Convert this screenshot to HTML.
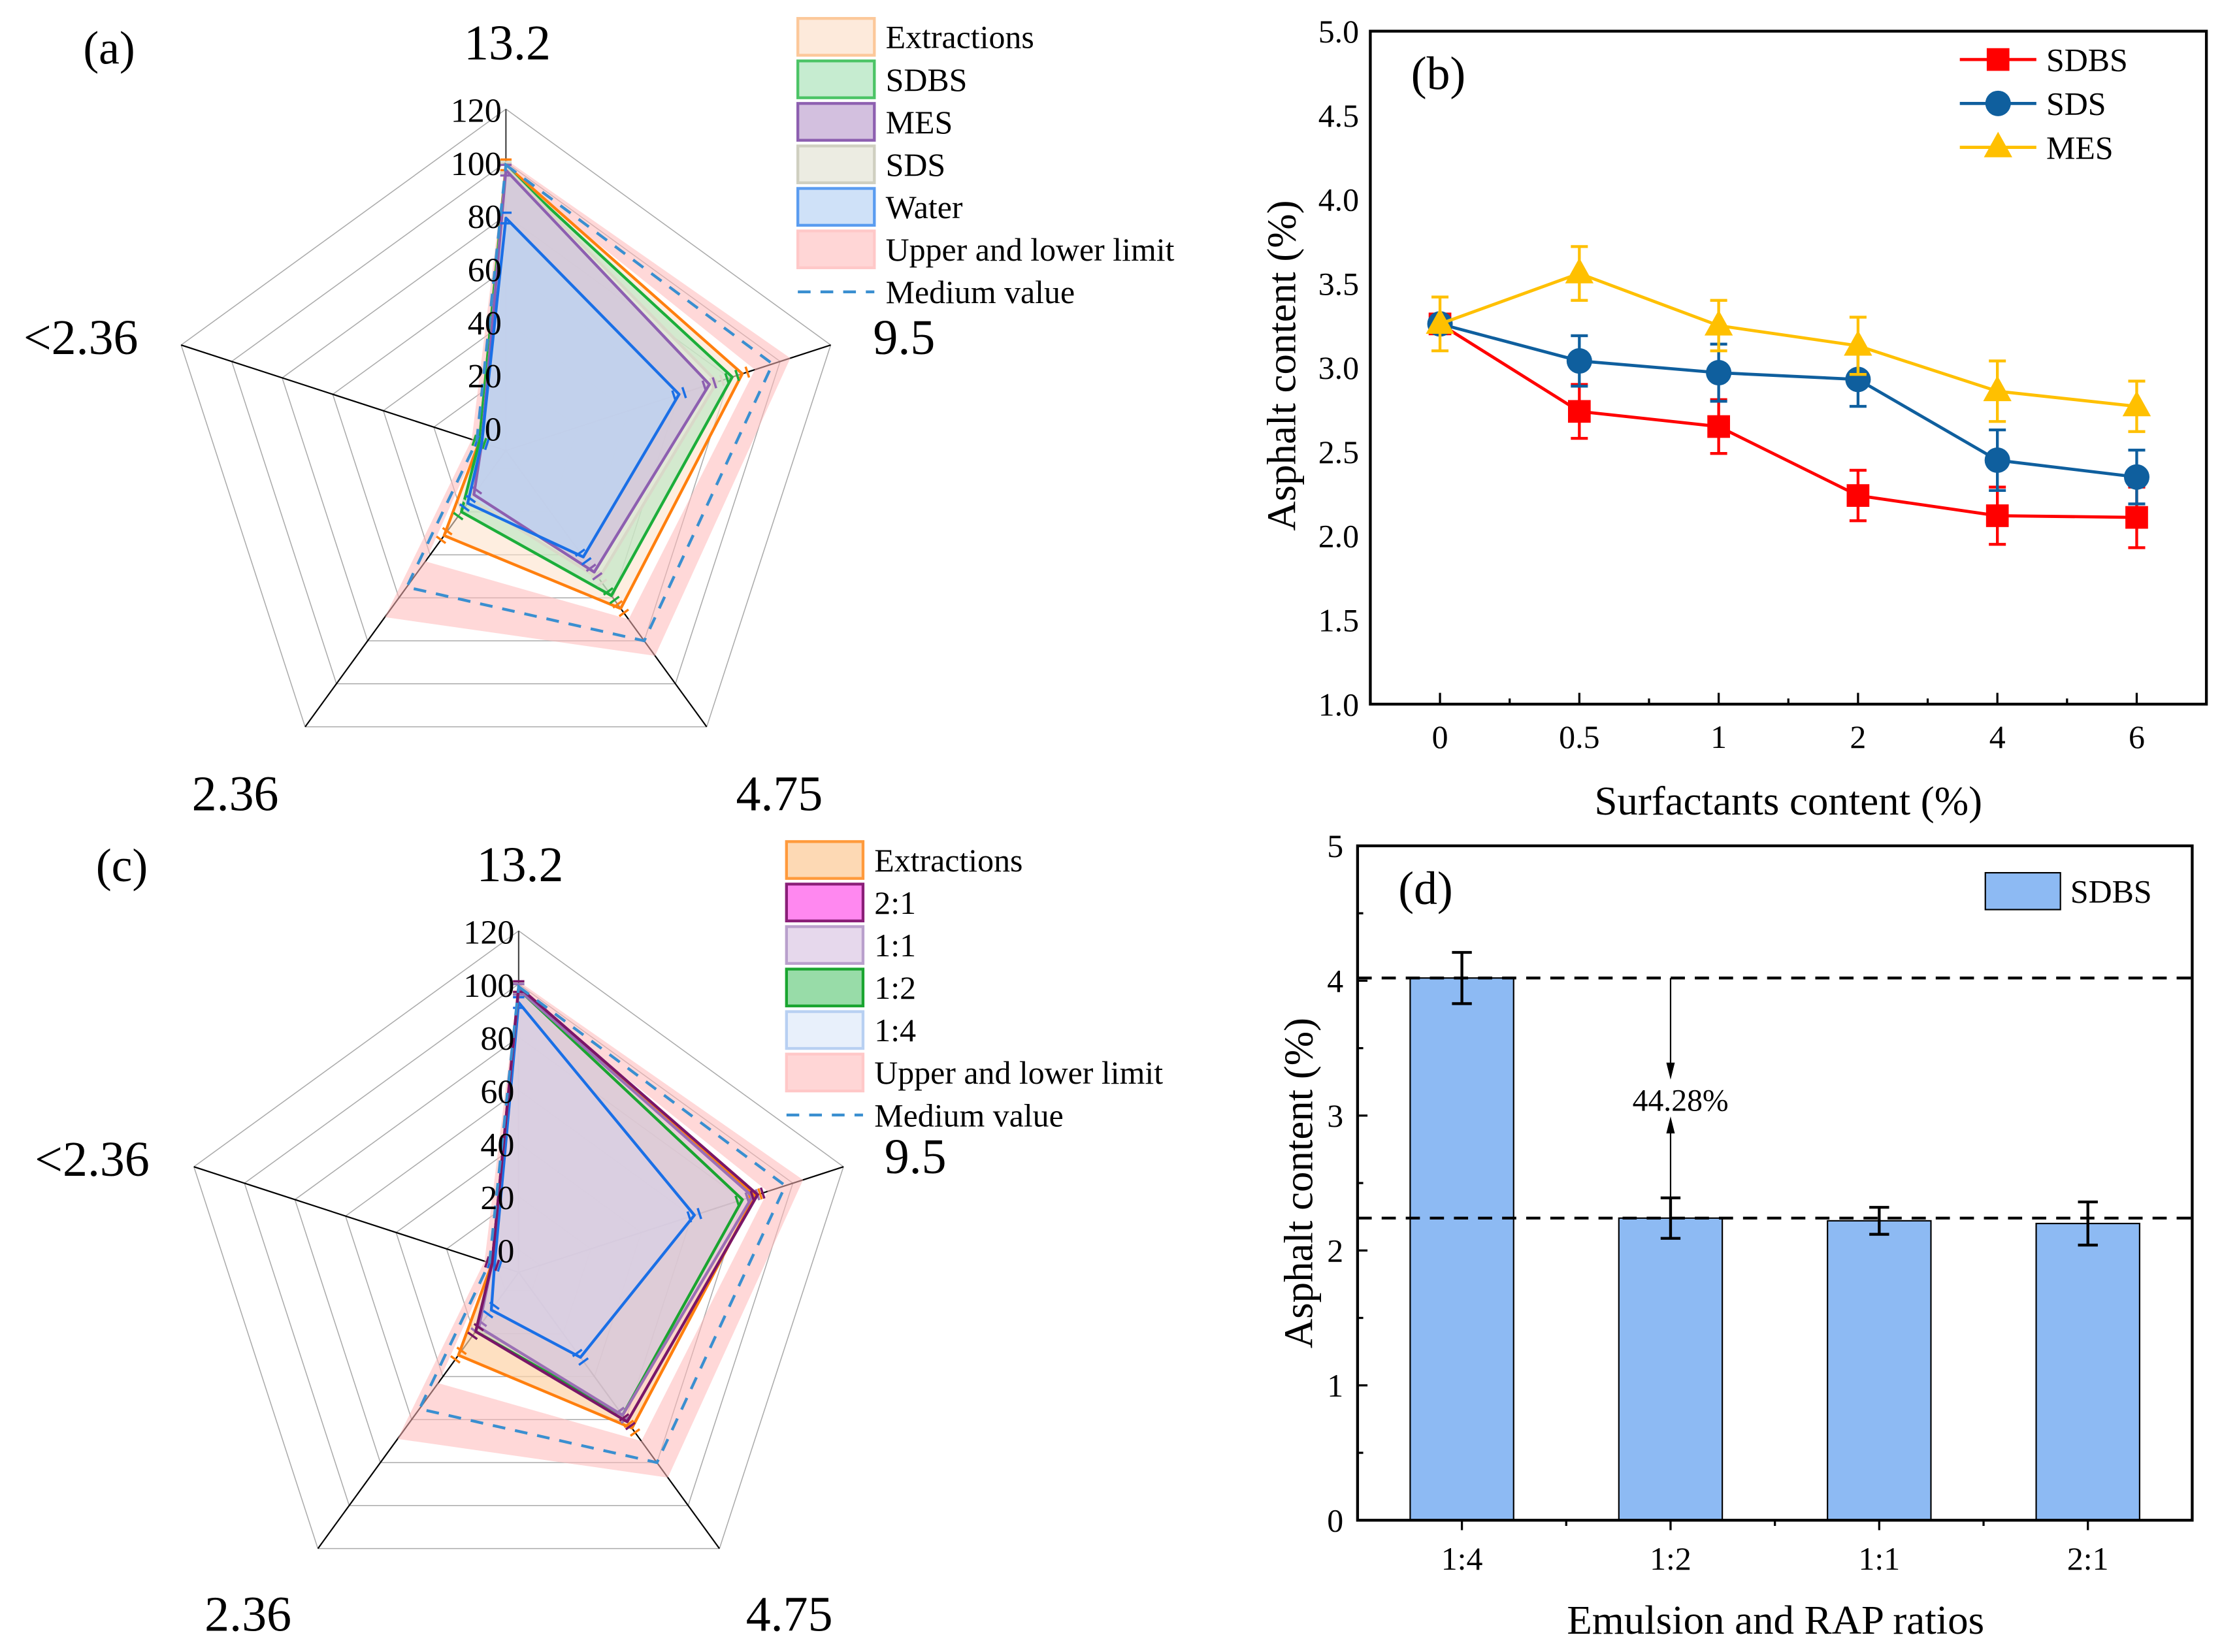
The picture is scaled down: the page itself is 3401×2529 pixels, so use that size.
<!DOCTYPE html>
<html><head><meta charset="utf-8">
<style>
html,body{margin:0;padding:0;background:#fff;}
svg{display:block;font-family:"Liberation Serif","Times New Roman",serif;}
svg text{font-family:"Liberation Serif","Times New Roman",serif;}
</style></head>
<body>
<svg id="fig" width="3401" height="2529" viewBox="0 0 1568 1166" xmlns="http://www.w3.org/2000/svg">
<rect x="0" y="0" width="1568" height="1166" fill="#fff"/>
<g id="ra"></g>
<g id="rc"></g>
<g id="pb"></g>
<g id="pd"></g>
</svg>
<script>
// ---------- Radar data ----------
const radarAxes = ["13.2", "9.5", "4.75", "2.36", "<2.36"];
const radarTicks = [0, 20, 40, 60, 80, 100, 120];
const aExtractions = [99, 85, 65, 31, 2];
const aSDBS = [98, 81, 59, 20, 2];
const aSDS = [98, 75, 51, 14, 1];
const aMES = [97, 72, 48, 12, 1];
const aWater = [79, 60, 41, 16, 1];
const aUpper = [101, 104, 87, 69, 5];
const aLower = [97, 90, 70, 43, 2];
const aMedium = [99, 97, 80, 55, 3];
const cExtractions = [99, 85, 64, 30, 2];
const c21 = [99, 86, 61, 19, 2];
const c11 = [98, 84, 58, 17, 2];
const c12 = [98, 80, 58, 19, 2];
const c14 = [93, 61, 31, 9, 1];
const cUpper = [101, 104, 87, 69, 5];
const cLower = [97, 90, 70, 43, 2];
const cMedium = [99, 97, 80, 55, 3];
// ---------- Line chart data ----------
const bCategories = ["0", "0.5", "1", "2", "4", "6"];
const bSDBS = [3.26, 2.74, 2.65, 2.24, 2.12, 2.11];
const bSDBSerr = [0.05, 0.16, 0.16, 0.15, 0.17, 0.18];
const bSDS = [3.26, 3.04, 2.97, 2.93, 2.45, 2.35];
const bSDSerr = [0.05, 0.15, 0.17, 0.16, 0.18, 0.16];
const bMES = [3.26, 3.56, 3.25, 3.13, 2.86, 2.77];
const bMESerr = [0.16, 0.16, 0.15, 0.17, 0.18, 0.15];
const bYTicks = ["1.0", "1.5", "2.0", "2.5", "3.0", "3.5", "4.0", "4.5", "5.0"];
// ---------- Bar chart data ----------
const dCategories = ["1:4", "1:2", "1:1", "2:1"];
const dValues = [4.02, 2.24, 2.22, 2.20];
const dErr = [0.19, 0.15, 0.10, 0.16];
const dYTicks = ["0", "1", "2", "3", "4", "5"];
const dRefLines = [4.02, 2.24];

const NS = "http://www.w3.org/2000/svg";
const FF = '"Liberation Serif","Times New Roman",serif';
function mk(parent, tag, name, attrs, text) {
  const el = document.createElementNS(NS, tag);
  
  
  for (const k in attrs) el.setAttribute(k, attrs[k]);
  if (text !== undefined) { el.textContent = text; el.setAttribute("font-family", FF); }
  parent.appendChild(el);
  return el;
}

// ---------- Radar ----------
function radar(g, cx, cy, series, upper, lower, medium, labelPos, panel, panelPos, legend) {
  const ang = [90, 18, -54, -126, 162].map(a => a * Math.PI / 180);
  const rr = v => 16 + 1.875 * v;
  const pt = (i, v) => [cx + rr(v) * Math.cos(ang[i]), cy - rr(v) * Math.sin(ang[i])];
  const poly = vals => vals.map((v, i) => pt(i, v).map(n => n.toFixed(1)).join(",")).join(" ");
  radarTicks.forEach(t => {
    const vals = radarAxes.map(() => t);
    mk(g, "polygon", "grid-ring", {points: poly(vals), fill: "none", stroke: "#aaa", "stroke-width": 0.7});
  });
  radarAxes.forEach((a, i) => {
    const p = pt(i, 120);
    mk(g, "line", "radar-spoke", {x1: cx, y1: cy, x2: p[0], y2: p[1], stroke: i === 0 ? "#444" : "#000", "stroke-width": 1});
  });
  const up = poly(upper), lo = poly(lower);
  mk(g, "path", "upper-lower-band", {d: "M" + up.replace(/ /g, " L") + " Z M" + lo.replace(/ /g, " L") + " Z", fill: "#ffb8b8", "fill-opacity": 0.55, "fill-rule": "evenodd"});
  series.forEach(s => mk(g, "polygon", s.name + "-fill", {points: poly(s.v), fill: s.fill, "fill-opacity": s.op, stroke: "none"}));
  series.forEach(s => {
    mk(g, "polygon", s.name + "-line", {points: poly(s.v), fill: "none", stroke: s.line, "stroke-width": 2, "stroke-linejoin": "round"});
    s.v.forEach((v, i) => {
      const px = -Math.sin(ang[i]), py = -Math.cos(ang[i]);
      [v - 2, v + 2].forEach(vv => {
        const p = pt(i, vv);
        mk(g, "line", s.name + "-errcap", {x1: p[0] - px * 4, y1: p[1] - py * 4, x2: p[0] + px * 4, y2: p[1] + py * 4, stroke: s.line, "stroke-width": 1.6});
      });
    });
  });
  mk(g, "polygon", "medium-value-line", {points: poly(medium), fill: "none", stroke: "#3a8fd0", "stroke-width": 2, "stroke-dasharray": "9 7"});
  radarTicks.forEach(t => {
    mk(g, "text", "radial-tick-label", {x: cx - 3, y: cy - rr(t) + 9, "text-anchor": "end", "font-size": 24}, String(t));
  });
  radarAxes.forEach((a, i) => {
    mk(g, "text", "radar-axis-label", {x: labelPos[i][0], y: labelPos[i][1], "text-anchor": "middle", "font-size": 35}, a);
  });
  mk(g, "text", "panel-label", {x: panelPos[0], y: panelPos[1], "text-anchor": "middle", "font-size": 33}, panel);
  legend.items.forEach((it, k) => {
    const y = legend.y + k * 30;
    if (it.dash) {
      mk(g, "line", "legend-swatch", {x1: legend.x, y1: y, x2: legend.x + 54, y2: y, stroke: "#3a8fd0", "stroke-width": 2, "stroke-dasharray": "9 7"});
    } else {
      mk(g, "rect", "legend-swatch", {x: legend.x, y: y - 13, width: 54, height: 26, fill: it.fill, stroke: it.stroke, "stroke-width": 2});
    }
    mk(g, "text", "legend-label", {x: legend.x + 62, y: y + 8, "font-size": 23}, it.label);
  });
}

radar(document.getElementById("ra"), 357, 318, [
  {name: "extractions", v: aExtractions, fill: "#fde3cc", op: 0.6, line: "#ff7f0e"},
  {name: "sdbs", v: aSDBS, fill: "#b6e6c2", op: 0.6, line: "#1cae3a"},
  {name: "sds", v: aSDS, fill: "#e8e8dc", op: 0.7, line: "#d8d8c8"},
  {name: "mes", v: aMES, fill: "#cdb8dc", op: 0.6, line: "#8d5fb0"},
  {name: "water", v: aWater, fill: "#b9d4f6", op: 0.65, line: "#1a6fe6"}
], aUpper, aLower, aMedium,
  [[358, 42], [638, 250], [550, 572], [166, 572], [57, 250]], "(a)", [77, 45],
  {x: 563, y: 26, items: [
    {label: "Extractions", fill: "#fdeadb", stroke: "#fcc89a"},
    {label: "SDBS", fill: "#c6ecd0", stroke: "#4cc466"},
    {label: "MES", fill: "#d3c0df", stroke: "#8d5fb0"},
    {label: "SDS", fill: "#ecece2", stroke: "#cfcfc0"},
    {label: "Water", fill: "#cfe1f8", stroke: "#5a9cf0"},
    {label: "Upper and lower limit", fill: "#ffd6d6", stroke: "#ffc8c8"},
    {label: "Medium value", dash: true}
  ]});

radar(document.getElementById("rc"), 366, 898, [
  {name: "extractions", v: cExtractions, fill: "#fdd3a6", op: 0.7, line: "#ff7f0e"},
  {name: "ratio-1-4", v: c14, fill: "#e6eefb", op: 0.8, line: "#1a6fe6"},
  {name: "ratio-1-2", v: c12, fill: "#98dca8", op: 0.35, line: "#1aa530"},
  {name: "ratio-1-1", v: c11, fill: "#dccbe6", op: 0.6, line: "#9b6fb5"},
  {name: "ratio-2-1", v: c21, fill: "#f2a8e8", op: 0.15, line: "#7a1668"}
], cUpper, cLower, cMedium,
  [[367, 622], [646, 828], [557, 1151], [175, 1151], [65, 830]], "(c)", [86, 622],
  {x: 555, y: 607, items: [
    {label: "Extractions", fill: "#fdd9b4", stroke: "#ff9a3c"},
    {label: "2:1", fill: "#ff88f0", stroke: "#8a1f78"},
    {label: "1:1", fill: "#e6d8ec", stroke: "#b9a0cc"},
    {label: "1:2", fill: "#98dca8", stroke: "#1aa530"},
    {label: "1:4", fill: "#e8f0fb", stroke: "#b8d0f2"},
    {label: "Upper and lower limit", fill: "#ffd6d6", stroke: "#ffc8c8"},
    {label: "Medium value", dash: true}
  ]});

// ---------- Line chart (b) ----------
(function () {
  const g = document.getElementById("pb");
  const L = 967, R = 1557, T = 22, B = 497;
  const x = i => L + (i + 0.5) * (R - L) / bCategories.length;
  const y = v => B - (v - 1) / 4 * (B - T);
  mk(g, "rect", "plot-frame", {x: L, y: T, width: R - L, height: B - T, fill: "none", stroke: "#000", "stroke-width": 2});
  bYTicks.forEach(t => {
    mk(g, "text", "y-tick-label", {x: L - 8, y: y(+t) + 8, "text-anchor": "end", "font-size": 23}, t);
  });
  bCategories.forEach((c, i) => {
    mk(g, "line", "x-tick", {x1: x(i), y1: B, x2: x(i), y2: B - 8, stroke: "#000", "stroke-width": 1.5});
    if (i < bCategories.length - 1) mk(g, "line", "x-minor-tick", {x1: (x(i) + x(i + 1)) / 2, y1: B, x2: (x(i) + x(i + 1)) / 2, y2: B - 4, stroke: "#000", "stroke-width": 1.5});
    mk(g, "text", "x-tick-label", {x: x(i), y: 528, "text-anchor": "middle", "font-size": 23}, c);
  });
  mk(g, "text", "x-axis-title", {x: 1262, y: 575, "text-anchor": "middle", "font-size": 29}, "Surfactants content (%)");
  mk(g, "text", "y-axis-title", {x: 0, y: 0, transform: "translate(914,258) rotate(-90)", "text-anchor": "middle", "font-size": 29}, "Asphalt content (%)");
  mk(g, "text", "panel-label", {x: 1015, y: 63, "text-anchor": "middle", "font-size": 33}, "(b)");
  const series = [
    {name: "sdbs", v: bSDBS, e: bSDBSerr, c: "#ff0000", m: "square"},
    {name: "sds", v: bSDS, e: bSDSerr, c: "#0f5f9e", m: "circle"},
    {name: "mes", v: bMES, e: bMESerr, c: "#ffc000", m: "triangle"}
  ];
  const marker = (name, m, px, py, c) => {
    if (m === "square") mk(g, "rect", name, {x: px - 8, y: py - 8, width: 16, height: 16, fill: c});
    else if (m === "circle") mk(g, "circle", name, {cx: px, cy: py, r: 9, fill: c});
    else mk(g, "polygon", name, {points: `${px},${py - 11} ${px - 10},${py + 7} ${px + 10},${py + 7}`, fill: c});
  };
  series.forEach(s => {
    s.v.forEach((v, i) => {
      mk(g, "line", s.name + "-errorbar", {x1: x(i), y1: y(v - s.e[i]), x2: x(i), y2: y(v + s.e[i]), stroke: s.c, "stroke-width": 2});
      [v - s.e[i], v + s.e[i]].forEach(vv => mk(g, "line", s.name + "-errcap", {x1: x(i) - 6, y1: y(vv), x2: x(i) + 6, y2: y(vv), stroke: s.c, "stroke-width": 2}));
    });
    mk(g, "polyline", s.name + "-line", {points: s.v.map((v, i) => x(i) + "," + y(v)).join(" "), fill: "none", stroke: s.c, "stroke-width": 2.2});
    s.v.forEach((v, i) => marker(s.name + "-point", s.m, x(i), y(v), s.c));
  });
  series.forEach((s, k) => {
    const ly = 42 + k * 31;
    mk(g, "line", "legend-line", {x1: 1383, y1: ly, x2: 1437, y2: ly, stroke: s.c, "stroke-width": 2.2});
    marker("legend-marker", s.m, 1410, ly, s.c);
    mk(g, "text", "legend-label", {x: 1444, y: ly + 8, "font-size": 23}, s.name.toUpperCase());
  });
})();

// ---------- Bar chart (d) ----------
(function () {
  const g = document.getElementById("pd");
  const L = 958, R = 1547, T = 597, B = 1073;
  const x = i => L + (i + 0.5) * (R - L) / dCategories.length;
  const y = v => B - v / 5 * (B - T);
  const bw = 73;
  dValues.forEach((v, i) => {
    mk(g, "rect", "bar-" + dCategories[i].replace(":", "-"), {x: x(i) - bw / 2, y: y(v), width: bw, height: B - y(v), fill: "#8dbaf3", stroke: "#000", "stroke-width": 1});
  });
  dRefLines.forEach(v => mk(g, "line", "reference-dashed-line", {x1: L, y1: y(v), x2: R, y2: y(v), stroke: "#000", "stroke-width": 2, "stroke-dasharray": "10 7"}));
  dValues.forEach((v, i) => {
    mk(g, "line", "errorbar", {x1: x(i), y1: y(v - dErr[i]), x2: x(i), y2: y(v + dErr[i]), stroke: "#000", "stroke-width": 2});
    [v - dErr[i], v + dErr[i]].forEach(vv => mk(g, "line", "errcap", {x1: x(i) - 7, y1: y(vv), x2: x(i) + 7, y2: y(vv), stroke: "#000", "stroke-width": 2}));
  });
  mk(g, "rect", "plot-frame", {x: L, y: T, width: R - L, height: B - T, fill: "none", stroke: "#000", "stroke-width": 2});
  dYTicks.forEach(t => {
    mk(g, "line", "y-tick", {x1: L, y1: y(+t), x2: L + 7, y2: y(+t), stroke: "#000", "stroke-width": 1.5});
    if (+t < 5) mk(g, "line", "y-minor-tick", {x1: L, y1: y(+t + 0.5), x2: L + 4, y2: y(+t + 0.5), stroke: "#000", "stroke-width": 1.5});
    mk(g, "text", "y-tick-label", {x: L - 10, y: y(+t) + 8, "text-anchor": "end", "font-size": 23}, t);
  });
  dCategories.forEach((c, i) => {
    mk(g, "line", "x-tick", {x1: x(i), y1: B, x2: x(i), y2: B + 7, stroke: "#000", "stroke-width": 1.5});
    if (i < dCategories.length - 1) mk(g, "line", "x-minor-tick", {x1: (x(i) + x(i + 1)) / 2, y1: B, x2: (x(i) + x(i + 1)) / 2, y2: B + 4, stroke: "#000", "stroke-width": 1.5});
    mk(g, "text", "x-tick-label", {x: x(i), y: 1108, "text-anchor": "middle", "font-size": 23}, c);
  });
  const ax = x(1);
  mk(g, "line", "annotation-arrow-down", {x1: ax, y1: y(dRefLines[0]), x2: ax, y2: 752, stroke: "#000", "stroke-width": 1});
  mk(g, "polygon", "arrowhead", {points: `${ax - 3},750 ${ax + 3},750 ${ax},762`, fill: "#000"});
  mk(g, "line", "annotation-arrow-up", {x1: ax, y1: y(dRefLines[1]), x2: ax, y2: 798, stroke: "#000", "stroke-width": 1});
  mk(g, "polygon", "arrowhead", {points: `${ax - 3},800 ${ax + 3},800 ${ax},788`, fill: "#000"});
  mk(g, "text", "reduction-annotation", {x: ax + 7, y: 784, "text-anchor": "middle", "font-size": 22}, "44.28%");
  mk(g, "rect", "legend-swatch", {x: 1401, y: 616, width: 53, height: 26, fill: "#8dbaf3", stroke: "#000", "stroke-width": 1});
  mk(g, "text", "legend-label", {x: 1461, y: 637, "font-size": 23}, "SDBS");
  mk(g, "text", "x-axis-title", {x: 1253, y: 1153, "text-anchor": "middle", "font-size": 29}, "Emulsion and RAP ratios");
  mk(g, "text", "y-axis-title", {x: 0, y: 0, transform: "translate(926,835) rotate(-90)", "text-anchor": "middle", "font-size": 29}, "Asphalt content (%)");
  mk(g, "text", "panel-label", {x: 1006, y: 638, "text-anchor": "middle", "font-size": 33}, "(d)");
})();
</script>
</body></html>
